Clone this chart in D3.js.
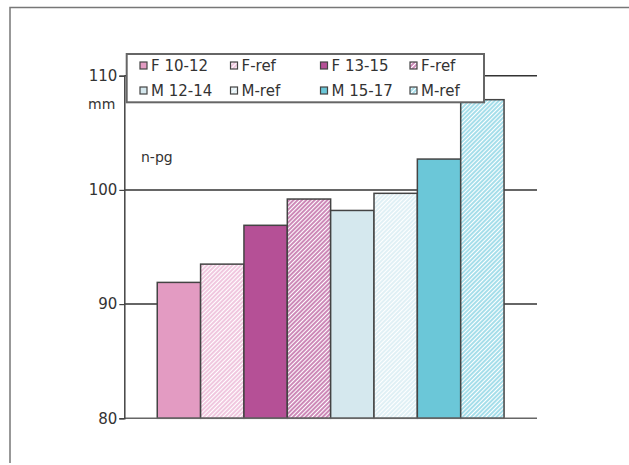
<!DOCTYPE html>
<html lang="en">
<head>
    <meta charset="UTF-8">
    <title>n-pg bar chart</title>
    <script src="https://d3js.org/d3.v7.min.js"></script>
    <style>
        body {
            margin: 0;
            background: #fff;
            font-family: "DejaVu Sans", sans-serif;
        }
        svg text {
            fill: #333;
        }
    </style>
</head>
<body>
<script>
    // data
    const labels = ["F 10-12", "F-ref", "F 13-15", "F-ref", "M 12-14", "M-ref", "M 15-17", "M-ref"];
    const values = [91.9, 93.5, 96.9, 99.2, 98.2, 99.7, 102.7, 107.9];
    const yTicks = [80, 90, 100, 110];
    const gridLines = [90, 100, 110];

    const width = 629, height = 465;

    // fill style per bar: solid colour or hatch colour
    const fills = [
        { solid: "#e39bc2" },
        { hatch: "#eab0d2" },
        { solid: "#b55096" },
        { hatch: "#b8579a" },
        { solid: "#d5e8ee" },
        { hatch: "#d3eaf1" },
        { solid: "#6bc7d8" },
        { hatch: "#7fd0e2" }
    ];

    const svg = d3.select("body").append("svg")
        .attr("width", width)
        .attr("height", height);

    const defs = svg.append("defs");
    fills.forEach((f, i) => {
        if (!f.hatch) return;
        const p = defs.append("pattern")
            .attr("id", "hatch" + i)
            .attr("patternUnits", "userSpaceOnUse")
            .attr("width", 3)
            .attr("height", 3)
            .attr("patternTransform", "rotate(45)");
        p.append("rect").attr("width", 3).attr("height", 3).attr("fill", "#fff");
        p.append("line")
            .attr("x1", 1).attr("x2", 1)
            .attr("y1", 0).attr("y2", 3)
            .attr("stroke", f.hatch)
            .attr("stroke-width", 1.4);
    });
    const fillOf = i => fills[i].solid || `url(#hatch${i})`;

    // outer frame
    svg.append("path")
        .attr("d", `M10,463 V7.5 H${width}`)
        .attr("fill", "none")
        .attr("stroke", "#777")
        .attr("stroke-width", 1.5);

    const left = 124.3, right = 537;
    const y = d3.scaleLinear().domain([80, 110]).range([418.3, 75.7]);
    const x = d3.scaleBand()
        .domain(d3.range(labels.length))
        .range([left, right])
        .paddingInner(0)
        .paddingOuter(0.76);

    // horizontal lines behind bars
    svg.append("g").selectAll("line")
        .data(gridLines)
        .enter().append("line")
        .attr("x1", left).attr("x2", right)
        .attr("y1", d => y(d)).attr("y2", d => y(d))
        .attr("stroke", "#333")
        .attr("stroke-width", 1.5);

    // bars
    svg.append("g").selectAll("rect")
        .data(values)
        .enter().append("rect")
        .attr("x", (d, i) => x(i))
        .attr("y", d => y(d))
        .attr("width", x.bandwidth())
        .attr("height", d => y(80) - y(d))
        .attr("fill", (d, i) => fillOf(i))
        .attr("stroke", "#444")
        .attr("stroke-width", 1.5);

    // baseline
    svg.append("line")
        .attr("x1", left).attr("x2", right)
        .attr("y1", y(80)).attr("y2", y(80))
        .attr("stroke", "#666")
        .attr("stroke-width", 1.5);

    // y axis
    const axis = svg.append("g")
        .attr("transform", `translate(${left},0)`)
        .call(d3.axisLeft(y).tickValues(yTicks).tickSize(5).tickPadding(2));
    axis.select(".domain").attr("stroke", "#444").attr("stroke-width", 1.5);
    axis.selectAll(".tick line").attr("stroke", "#444").attr("stroke-width", 1.2);
    axis.selectAll(".tick text")
        .attr("font-family", "DejaVu Sans")
        .attr("font-size", 15)
        .attr("fill", "#333");

    svg.append("text")
        .attr("x", 88).attr("y", 109)
        .attr("font-size", 14)
        .text("mm");

    svg.append("text")
        .attr("x", 141).attr("y", 162)
        .attr("font-size", 14)
        .text("n-pg");

    // legend
    const legend = svg.append("g");
    legend.append("rect")
        .attr("x", 126.7).attr("y", 54)
        .attr("width", 357.3).attr("height", 48.3)
        .attr("fill", "#fff")
        .attr("stroke", "#666")
        .attr("stroke-width", 2);

    const colX = [140, 230.5, 320.5, 410];
    const rowY = [65.5, 90.5];
    const item = legend.selectAll("g.item")
        .data(labels)
        .enter().append("g")
        .attr("class", "item")
        .attr("transform", (d, i) => `translate(${colX[i % 4]},${rowY[Math.floor(i / 4)]})`);
    item.append("rect")
        .attr("x", 0).attr("y", -3.5)
        .attr("width", 7).attr("height", 7)
        .attr("fill", (d, i) => fillOf(i))
        .attr("stroke", "#444")
        .attr("stroke-width", 1.2);
    item.append("text")
        .attr("x", 11)
        .attr("dy", "0.36em")
        .attr("font-size", 15)
        .text(d => d);
</script>
</body>
</html>
